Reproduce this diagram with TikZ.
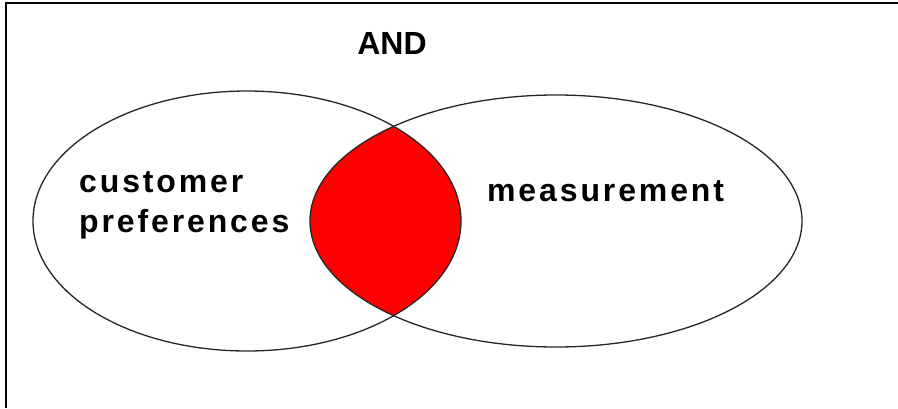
\documentclass[tikz,border=0pt]{standalone}
\usepackage{fontspec}
\newfontfamily\vennfont[LetterSpace=9]{Liberation Sans}
\newfontfamily\andfont{Liberation Sans}
\begin{document}
\begin{tikzpicture}[x=1pt,y=-1pt,
    setline/.style={draw=black!85,line width=1.3pt},
    setlabel/.style={font=\vennfont\bfseries\fontsize{32}{40}\selectfont,
                     anchor=base west,inner sep=0pt},
    oplabel/.style={font=\andfont\bfseries\fontsize{32}{40}\selectfont,
                    anchor=base,inner sep=0pt}]
  \useasboundingbox (0,0) rectangle (898,408);
  %% frame (only top and left edges show)
  \draw[line width=1.2pt] (6,408) -- (6,3) -- (898,3);
  %% centres of the two sets
  \coordinate (cl) at (247,221);
  \coordinate (cr) at (556,221);
  %% intersection
  \begin{scope}
    \clip (cl) ellipse [x radius=214, y radius=130];
    \fill[red] (cr) ellipse [x radius=246, y radius=126];
  \end{scope}
  %% the two sets
  \draw[setline] (cl) ellipse [x radius=214, y radius=130];
  \draw[setline] (cr) ellipse [x radius=246, y radius=126];
  %% labels
  \node[oplabel] (and) at (392,54) {AND};
  \node[setlabel] (cust) at (79,192) {customer};
  \node[setlabel] (pref) at (79,232) {preferences};
  \node[setlabel] (meas) at (487,201) {measurement};
\end{tikzpicture}
\end{document}
